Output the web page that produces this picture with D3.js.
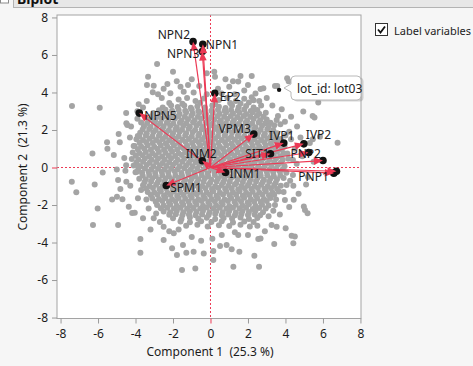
<!DOCTYPE html>
<html>
<head>
<meta charset="utf-8">
<script src="https://cdn.jsdelivr.net/npm/d3@7"></script>
<style>
  body { margin: 0; background: #f6f6f6; }
  svg { display: block; font-family: "Noto Sans", sans-serif; }
</style>
</head>
<body>
<svg id="chart" width="473" height="366"></svg>
<script>
// axis ticks and titles
const xTicks = [-8, -6, -4, -2, 0, 2, 4, 6, 8];
const yTicks = [-8, -6, -4, -2, 0, 2, 4, 6, 8];
const xTitle = "Component 1  (25.3 %)";
const yTitle = "Component 2  (21.3 %)";

// variable loadings (arrow tips)
const varNames = ["NPN2", "NPN1", "NPN3", "EP2", "NPN5", "VPM3", "IVP1", "IVP2", "SIT1", "PNP2", "PNP3", "PNP1", "PNP4", "INM1", "INM2", "SPM1"];
const varX = [-0.93, -0.41, -0.44, 0.23, -3.8, 2.31, 3.91, 4.98, 3.2, 5.24, 6.0, 6.58, 6.72, 0.8, -0.44, -2.36];
const varY = [6.71, 6.57, 6.18, 3.96, 2.9, 1.78, 1.3, 1.26, 0.73, 0.8, 0.37, -0.3, -0.2, -0.27, 0.36, -0.96];

// highlighted row
const hoverRow = {label: "lot_id: lot03", x: 3.66, y: 4.14};

// component scores (one point per row)
const scores = [
  // upper rows of the cloud
  [-1.7,3.62],[-1.25,3.7],[-0.8,3.55],[-0.35,3.68],[0.45,3.6],[0.9,3.72],[1.35,3.55],[1.8,3.66],[2.3,3.58],
  [-2.2,3.44],[-1.5,3.4],[-0.55,3.45],[0.25,3.39],[1.05,3.44],[1.6,3.41],[2.05,3.46],
  [-2.55,3.2],[-2.1,3.3],[-1.75,3.22],[-1.4,3.31],[-1.05,3.18],[-0.7,3.27],[-0.3,3.2],[0.1,3.3],[0.45,3.24],[0.8,3.17],[1.15,3.3],[1.5,3.21],[1.9,3.28],[2.3,3.2],[2.7,3.3],
  [-2.75,3.05],[-2.4,3.08],[-2.05,3.02],[-1.7,3.07],[-1.35,3.03],[-1.0,3.09],[-0.65,3.01],[-0.3,3.06],[0.05,3.03],[0.4,3.08],[0.75,3.02],[1.1,3.07],[1.45,3.04],[1.8,3.09],[2.15,3.01],[2.5,3.06],
  [-3.05,2.9],[-2.7,2.95],[-2.35,2.86],[-2.0,2.92],[-1.65,2.85],[-1.3,2.95],[-0.95,2.88],[-0.6,2.93],[-0.25,2.85],[0.12,2.91],[0.48,2.86],[0.83,2.95],[1.2,2.88],[1.55,2.92],[1.9,2.85],[2.25,2.94],[2.6,2.87],[2.95,2.92],
  [-3.12,2.74],[-2.77,2.7],[-2.42,2.75],[-2.07,2.69],[-1.72,2.73],[-1.37,2.7],[-1.02,2.76],[-0.67,2.71],[-0.32,2.74],[0.03,2.68],[0.38,2.73],[0.73,2.7],[1.08,2.75],[1.43,2.69],[1.78,2.74],[2.13,2.7],[2.48,2.76],[2.83,2.71],
  [-3.3,2.55],[-2.95,2.5],[-2.6,2.58],[-2.25,2.52],[-1.9,2.6],[-1.55,2.5],[-1.2,2.57],[-0.85,2.52],[-0.5,2.6],[-0.15,2.5],[0.2,2.56],[0.55,2.5],[0.9,2.59],[1.25,2.52],[1.6,2.57],[1.95,2.5],[2.3,2.58],[2.65,2.52],[3.0,2.56],
  [-3.38,2.37],[-3.03,2.4],[-2.68,2.35],[-2.33,2.39],[-1.98,2.34],[-1.63,2.38],[-1.28,2.36],[-0.93,2.41],[-0.58,2.35],[-0.23,2.38],[0.12,2.34],[0.47,2.4],[0.82,2.36],[1.17,2.39],[1.52,2.33],[1.87,2.38],[2.22,2.35],[2.57,2.4],[2.92,2.36],[3.2,2.39],
  [-3.55,2.2],[-3.2,2.16],[-2.85,2.24],[-2.5,2.18],[-2.15,2.23],[-1.8,2.15],[-1.45,2.22],[-1.1,2.17],[-0.75,2.24],[-0.4,2.16],[-0.05,2.22],[0.3,2.15],[0.65,2.23],[1.0,2.18],[1.35,2.24],[1.7,2.16],[2.05,2.21],[2.4,2.15],[2.75,2.23],[3.1,2.18],[3.4,2.25],
  [-3.62,2.02],[-3.27,2.05],[-2.92,2.0],[-2.57,2.04],[-2.22,1.99],[-1.87,2.03],[-1.52,2.01],[-1.17,2.06],[-0.82,2.0],[-0.47,2.04],[-0.12,1.99],[0.23,2.05],[0.58,2.01],[0.93,2.04],[1.28,1.98],[1.63,2.03],[1.98,2.0],[2.33,2.05],[2.68,2.01],[3.03,2.04],[3.35,1.99],
  [-3.75,1.85],[-3.4,1.82],[-3.05,1.88],[-2.7,1.8],[-2.35,1.87],[-2.0,1.82],[-1.65,1.9],[-1.3,1.83],[-0.95,1.88],[-0.6,1.8],[-0.25,1.86],[0.1,1.82],[0.45,1.89],[0.8,1.81],[1.15,1.87],[1.5,1.83],[1.85,1.9],[2.2,1.82],[2.55,1.86],[2.9,1.8],[3.25,1.88],[3.55,1.83],
  [-3.8,1.67],[-3.45,1.7],[-3.1,1.65],[-2.75,1.69],[-2.4,1.64],[-2.05,1.68],[-1.7,1.66],[-1.35,1.71],[-1.0,1.65],[-0.65,1.69],[-0.3,1.64],[0.05,1.7],[0.4,1.66],[0.75,1.69],[1.1,1.63],[1.45,1.68],[1.8,1.65],[2.15,1.7],[2.5,1.66],[2.85,1.69],[3.2,1.64],[3.5,1.68],
  [-3.95,1.5],[-3.6,1.46],[-3.25,1.53],[-2.9,1.47],[-2.55,1.52],[-2.2,1.45],[-1.85,1.53],[-1.5,1.48],[-1.15,1.52],[-0.8,1.45],[-0.45,1.51],[-0.1,1.47],[0.25,1.53],[0.6,1.46],[0.95,1.52],[1.3,1.48],[1.65,1.54],[2.0,1.46],[2.35,1.51],[2.7,1.47],[3.05,1.53],[3.4,1.46],[3.75,1.52],
  [-3.78,1.32],[-3.43,1.35],[-3.08,1.3],[-2.73,1.34],[-2.38,1.29],[-2.03,1.33],[-1.68,1.31],[-1.33,1.36],[-0.98,1.3],[-0.63,1.34],[-0.28,1.29],[0.07,1.35],[0.42,1.31],[0.77,1.34],[1.12,1.28],[1.47,1.33],[1.82,1.3],[2.17,1.35],[2.52,1.31],[2.87,1.34],[3.22,1.29],[3.57,1.33],
  [-4.05,1.15],[-3.7,1.12],[-3.35,1.18],[-3.0,1.1],[-2.65,1.17],[-2.3,1.12],[-1.95,1.19],[-1.6,1.11],[-1.25,1.16],[-0.9,1.1],[-0.55,1.18],[-0.2,1.12],[0.15,1.17],[0.5,1.11],[0.85,1.19],[1.2,1.13],[1.55,1.17],[1.9,1.1],[2.25,1.16],[2.6,1.12],[2.95,1.18],[3.3,1.11],[3.65,1.17],[3.95,1.12],
  [-3.88,0.97],[-3.53,1.0],[-3.18,0.95],[-2.83,0.99],[-2.48,0.94],[-2.13,0.98],[-1.78,0.96],[-1.43,1.01],[-1.08,0.95],[-0.73,0.99],[-0.38,0.94],[-0.03,1.0],[0.32,0.96],[0.67,0.99],[1.02,0.93],[1.37,0.98],[1.72,0.95],[2.07,1.0],[2.42,0.96],[2.77,0.99],[3.12,0.94],[3.47,0.98],[3.8,0.95],
  // middle rows
  [-4.15,0.8],[-3.8,0.77],[-3.45,0.83],[-3.1,0.76],[-2.75,0.82],[-2.4,0.78],[-2.05,0.84],[-1.7,0.76],[-1.35,0.81],[-1.0,0.77],[-0.65,0.83],[-0.3,0.75],[0.05,0.82],[0.4,0.78],[0.75,0.84],[1.1,0.76],[1.45,0.81],[1.8,0.77],[2.15,0.83],[2.5,0.76],[2.85,0.82],[3.2,0.78],[3.55,0.84],[3.9,0.76],
  [-3.98,0.62],[-3.63,0.65],[-3.28,0.6],[-2.93,0.64],[-2.58,0.59],[-2.23,0.63],[-1.88,0.61],[-1.53,0.66],[-1.18,0.6],[-0.83,0.64],[-0.48,0.59],[-0.13,0.65],[0.22,0.61],[0.57,0.64],[0.92,0.58],[1.27,0.63],[1.62,0.6],[1.97,0.65],[2.32,0.61],[2.67,0.64],[3.02,0.59],[3.37,0.63],[3.72,0.6],
  [-4.2,0.45],[-3.85,0.42],[-3.5,0.48],[-3.15,0.41],[-2.8,0.47],[-2.45,0.43],[-2.1,0.49],[-1.75,0.41],[-1.4,0.46],[-1.05,0.42],[-0.7,0.48],[-0.35,0.4],[0.0,0.46],[0.35,0.42],[0.7,0.48],[1.05,0.41],[1.4,0.47],[1.75,0.43],[2.1,0.49],[2.45,0.41],[2.8,0.46],[3.15,0.42],[3.5,0.48],[3.85,0.41],[4.15,0.47],
  [-3.95,0.27],[-3.6,0.3],[-3.25,0.25],[-2.9,0.29],[-2.55,0.24],[-2.2,0.28],[-1.85,0.26],[-1.5,0.31],[-1.15,0.25],[-0.8,0.29],[-0.45,0.24],[-0.1,0.3],[0.25,0.26],[0.6,0.29],[0.95,0.23],[1.3,0.28],[1.65,0.25],[2.0,0.3],[2.35,0.26],[2.7,0.29],[3.05,0.24],[3.4,0.28],[3.75,0.25],
  [-4.1,0.1],[-3.75,0.07],[-3.4,0.13],[-3.05,0.06],[-2.7,0.12],[-2.35,0.08],[-2.0,0.14],[-1.65,0.06],[-1.3,0.11],[-0.95,0.07],[-0.6,0.13],[-0.25,0.05],[0.1,0.12],[0.45,0.08],[0.8,0.14],[1.15,0.06],[1.5,0.11],[1.85,0.07],[2.2,0.13],[2.55,0.05],[2.9,0.12],[3.25,0.08],[3.6,0.14],[3.95,0.06],
  [-3.85,-0.08],[-3.5,-0.05],[-3.15,-0.1],[-2.8,-0.06],[-2.45,-0.11],[-2.1,-0.07],[-1.75,-0.09],[-1.4,-0.04],[-1.05,-0.1],[-0.7,-0.06],[-0.35,-0.11],[0.0,-0.05],[0.35,-0.09],[0.7,-0.06],[1.05,-0.12],[1.4,-0.07],[1.75,-0.1],[2.1,-0.05],[2.45,-0.09],[2.8,-0.06],[3.15,-0.11],[3.5,-0.07],[3.85,-0.1],
  [-4.0,-0.25],[-3.65,-0.28],[-3.3,-0.22],[-2.95,-0.29],[-2.6,-0.23],[-2.25,-0.27],[-1.9,-0.21],[-1.55,-0.29],[-1.2,-0.24],[-0.85,-0.28],[-0.5,-0.22],[-0.15,-0.3],[0.2,-0.23],[0.55,-0.27],[0.9,-0.21],[1.25,-0.29],[1.6,-0.24],[1.95,-0.28],[2.3,-0.22],[2.65,-0.3],[3.0,-0.23],[3.35,-0.27],[3.7,-0.21],[4.05,-0.28],
  [-3.62,-0.43],[-3.27,-0.4],[-2.92,-0.45],[-2.57,-0.41],[-2.22,-0.46],[-1.87,-0.42],[-1.52,-0.44],[-1.17,-0.39],[-0.82,-0.45],[-0.47,-0.41],[-0.12,-0.46],[0.23,-0.4],[0.58,-0.44],[0.93,-0.41],[1.28,-0.47],[1.63,-0.42],[1.98,-0.45],[2.33,-0.4],[2.68,-0.44],[3.03,-0.41],[3.38,-0.46],[3.73,-0.42],
  [-3.8,-0.6],[-3.45,-0.63],[-3.1,-0.57],[-2.75,-0.64],[-2.4,-0.58],[-2.05,-0.62],[-1.7,-0.56],[-1.35,-0.64],[-1.0,-0.59],[-0.65,-0.63],[-0.3,-0.57],[0.05,-0.65],[0.4,-0.58],[0.75,-0.62],[1.1,-0.56],[1.45,-0.64],[1.8,-0.59],[2.15,-0.63],[2.5,-0.57],[2.85,-0.65],[3.2,-0.58],[3.55,-0.62],[3.9,-0.56],
  [-3.52,-0.78],[-3.17,-0.75],[-2.82,-0.8],[-2.47,-0.76],[-2.12,-0.81],[-1.77,-0.77],[-1.42,-0.79],[-1.07,-0.74],[-0.72,-0.8],[-0.37,-0.76],[-0.02,-0.81],[0.33,-0.75],[0.68,-0.79],[1.03,-0.76],[1.38,-0.82],[1.73,-0.77],[2.08,-0.8],[2.43,-0.75],[2.78,-0.79],[3.13,-0.76],[3.48,-0.81],
  // lower rows
  [-3.6,-0.95],[-3.25,-0.98],[-2.9,-0.92],[-2.55,-0.99],[-2.2,-0.93],[-1.85,-0.97],[-1.5,-0.91],[-1.15,-0.99],[-0.8,-0.94],[-0.45,-0.98],[-0.1,-0.92],[0.25,-1.0],[0.6,-0.93],[0.95,-0.97],[1.3,-0.91],[1.65,-0.99],[2.0,-0.94],[2.35,-0.98],[2.7,-0.92],[3.05,-1.0],[3.4,-0.93],[3.75,-0.97],
  [-3.42,-1.12],[-3.07,-1.09],[-2.72,-1.14],[-2.37,-1.1],[-2.02,-1.15],[-1.67,-1.11],[-1.32,-1.13],[-0.97,-1.08],[-0.62,-1.14],[-0.27,-1.1],[0.08,-1.15],[0.43,-1.09],[0.78,-1.13],[1.13,-1.1],[1.48,-1.16],[1.83,-1.11],[2.18,-1.14],[2.53,-1.09],[2.88,-1.13],[3.23,-1.1],[3.55,-1.15],
  [-3.35,-1.3],[-3.0,-1.33],[-2.65,-1.27],[-2.3,-1.34],[-1.95,-1.28],[-1.6,-1.32],[-1.25,-1.26],[-0.9,-1.34],[-0.55,-1.29],[-0.2,-1.33],[0.15,-1.27],[0.5,-1.35],[0.85,-1.28],[1.2,-1.32],[1.55,-1.26],[1.9,-1.34],[2.25,-1.29],[2.6,-1.33],[2.95,-1.27],[3.3,-1.35],[3.65,-1.28],
  [-3.18,-1.47],[-2.83,-1.44],[-2.48,-1.49],[-2.13,-1.45],[-1.78,-1.5],[-1.43,-1.46],[-1.08,-1.48],[-0.73,-1.43],[-0.38,-1.49],[-0.03,-1.45],[0.32,-1.5],[0.67,-1.44],[1.02,-1.48],[1.37,-1.45],[1.72,-1.51],[2.07,-1.46],[2.42,-1.49],[2.77,-1.44],[3.12,-1.48],[3.4,-1.45],
  [-3.1,-1.65],[-2.75,-1.68],[-2.4,-1.62],[-2.05,-1.69],[-1.7,-1.63],[-1.35,-1.67],[-1.0,-1.61],[-0.65,-1.69],[-0.3,-1.64],[0.05,-1.68],[0.4,-1.62],[0.75,-1.7],[1.1,-1.63],[1.45,-1.67],[1.8,-1.61],[2.15,-1.69],[2.5,-1.64],[2.85,-1.68],[3.2,-1.62],[3.5,-1.7],
  [-2.92,-1.82],[-2.57,-1.79],[-2.22,-1.84],[-1.87,-1.8],[-1.52,-1.85],[-1.17,-1.81],[-0.82,-1.83],[-0.47,-1.78],[-0.12,-1.84],[0.23,-1.8],[0.58,-1.85],[0.93,-1.79],[1.28,-1.83],[1.63,-1.8],[1.98,-1.86],[2.33,-1.81],[2.68,-1.84],[3.0,-1.79],
  [-2.85,-2.0],[-2.5,-2.03],[-2.15,-1.97],[-1.8,-2.04],[-1.45,-1.98],[-1.1,-2.02],[-0.75,-1.96],[-0.4,-2.04],[-0.05,-1.99],[0.3,-2.03],[0.65,-1.97],[1.0,-2.05],[1.35,-1.98],[1.7,-2.02],[2.05,-1.96],[2.4,-2.04],[2.75,-1.99],[3.1,-2.03],
  [-2.65,-2.17],[-2.3,-2.14],[-1.95,-2.19],[-1.6,-2.15],[-1.25,-2.2],[-0.9,-2.16],[-0.55,-2.18],[-0.2,-2.13],[0.15,-2.19],[0.5,-2.15],[0.85,-2.2],[1.2,-2.14],[1.55,-2.18],[1.9,-2.15],[2.25,-2.21],[2.6,-2.16],[2.95,-2.19],
  [-2.5,-2.35],[-2.15,-2.38],[-1.8,-2.32],[-1.45,-2.39],[-1.1,-2.33],[-0.75,-2.37],[-0.4,-2.31],[-0.05,-2.39],[0.3,-2.34],[0.65,-2.38],[1.0,-2.32],[1.35,-2.4],[1.7,-2.33],[2.05,-2.37],[2.4,-2.31],[2.8,-2.38],
  [-2.2,-2.52],[-1.85,-2.49],[-1.5,-2.54],[-1.15,-2.5],[-0.8,-2.55],[-0.45,-2.51],[-0.1,-2.53],[0.25,-2.48],[0.6,-2.54],[0.95,-2.5],[1.3,-2.55],[1.65,-2.49],[2.0,-2.53],[2.35,-2.5],[2.65,-2.55],
  [-2.0,-2.7],[-1.55,-2.74],[-1.1,-2.67],[-0.65,-2.73],[-0.2,-2.68],[0.25,-2.75],[0.7,-2.69],[1.15,-2.72],[1.6,-2.66],[2.05,-2.74],[2.5,-2.69],
  [-1.6,-2.88],[-1.1,-2.92],[-0.5,-2.86],[0.05,-2.9],[0.6,-2.87],[1.2,-2.93],[1.8,-2.88],[2.3,-2.91],
  [-1.3,-3.1],[-0.7,-3.05],[-0.15,-3.15],[0.45,-3.08],[1.0,-3.12],[1.6,-3.05],[2.1,-3.15],
  // upper fringe
  [-2.85,5.52],[-2.0,5.11],[-3.33,4.84],[-3.39,4.4],[-3.03,4.36],[-3.08,4.01],[-1.2,4.4],[-2.14,3.96],[-1.43,4.04],[-2.5,4.2],[-1.8,4.6],[-0.9,4.0],
  [0.2,5.11],[-0.2,5.02],[0.24,4.84],[1.48,4.58],[1.6,4.88],[2.2,4.88],[2.82,4.22],[2.67,4.19],[1.0,4.3],[1.8,4.1],[2.4,3.95],[0.6,3.95],[1.3,3.9],[3.0,3.7],[-2.6,3.7],[-3.4,3.55],
  [-2.3,4.45],[-1.6,4.3],[-0.6,4.35],[0.4,4.2],[1.2,4.6],[2.0,4.4],[-2.8,3.9],[-1.0,4.7],[0.8,4.7],[2.6,3.55],[-3.6,3.2],[-3.9,3.0],[-0.2,3.9],[2.2,3.75],
  // right fringe
  [3.44,4.35],[3.56,4.35],[4.09,4.76],[4.17,4.6],[5.75,3.46],[4.95,2.98],[5.45,2.75],[5.55,2.66],[6.78,1.32],[3.97,2.44],[3.53,2.53],[3.73,2.31],[4.62,2.18],[5.84,1.64],[5.46,1.51],
  [4.2,1.9],[4.8,1.6],[5.3,1.3],[4.5,1.0],[4.9,0.6],[5.5,0.3],[4.6,0.2],[4.4,-0.4],[5.2,-0.5],[4.3,2.7],[3.8,3.1],[3.3,3.3],
  [4.3,1.5],[4.1,0.75],[4.4,0.4],[4.0,1.7],[3.6,2.75],[4.25,-0.7],
  // lower right fringe
  [4.06,-0.93],[4.42,-0.97],[3.97,-1.73],[4.44,-1.72],[3.44,-2.0],[5.04,-2.27],[5.18,-2.44],[4.98,-2.08],[4.33,-3.64],[4.5,-3.68],[4.42,-4.04],[3.4,-4.08],[2.55,-3.81],[2.67,-3.78],
  [2.34,-4.7],[2.59,-5.29],[1.22,-5.29],[1.54,-4.49],[1.13,-4.36],[0.86,-4.13],[0.51,-4.19],[0.15,-4.45],[0.15,-4.93],[3.53,-3.16],[4.01,-3.24],[3.26,-3.07],[1.48,-3.6],
  [2.9,-3.4],[2.0,-3.6],[3.7,-2.5],[4.2,-2.1],[4.7,-1.4],[3.9,-1.3],[5.1,-0.9],[2.5,-3.1],[3.1,-2.6],[3.35,-2.3],[1.3,-3.45],
  // lower left fringe
  [-7.4,-0.76],[-7.16,-1.32],[-6.18,-0.9],[-5.75,-0.26],[-4.93,-0.67],[-4.49,-0.76],[-4.81,-1.15],[-4.28,-0.97],[-5.25,-1.7],[-4.99,-1.56],[-6.02,-2.18],[-3.87,-1.64],
  [-4.36,-2.09],[-4.04,-2.41],[-6.27,-3.07],[-4.93,-3.07],[-3.74,-3.81],[-3.74,-4.54],[-4.54,-0.17],[-3.92,-0.22],[-3.42,-1.7],[-3.3,-2.18],[-3.03,-2.71],[-2.5,-3.16],
  [-2.5,-3.87],[-1.96,-3.51],[-2.05,-4.31],[-1.79,-4.67],[-1.47,-4.13],[-1.52,-5.47],[-0.81,-5.38],[-1.29,-4.54],[-0.9,-4.49],[-0.36,-4.58],[-0.5,-3.9],[-1.0,-3.7],
  [0.1,-3.8],[0.6,-3.6],[-2.7,-2.9],[-2.2,-3.4],[-4.7,-1.69],[-4.18,-2.43],[-3.6,-2.7],[-3.2,-3.3],[-3.7,-1.2],[-2.9,-2.45],[-1.7,-3.3],
  // upper left fringe
  [-7.39,3.28],[-5.91,3.19],[-3.83,3.37],[-4.49,2.36],[-4.24,2.18],[-3.88,1.68],[-5.52,1.34],[-4.84,1.34],[-6.3,0.74],[-5.16,0.67],[-4.1,1.15],[-3.83,0.08],
  [-4.5,0.12],[-4.44,2.27],[-4.9,1.78],[-4.5,2.9],[-3.9,2.6],[-4.6,0.5],[-5.0,-0.1],[-5.5,1.0],[-4.3,1.6],[-3.7,2.4]
];

// label placement for the variables: [anchor, dx, dy] in pixels
const labelPlace = {
  NPN2: ["end", -3, -7], NPN1: ["start", 3, 0], NPN3: ["end", -3, 2], EP2: ["start", 5, 3],
  NPN5: ["start", 5, 2], VPM3: ["end", -3, -6], IVP1: ["middle", -2, -8], IVP2: ["start", 2, -9],
  SIT1: ["end", -1, 0], PNP2: ["middle", -3, 1], PNP1: ["end", -5, 3], INM1: ["start", 4, 1],
  INM2: ["middle", -1, -7], SPM1: ["start", 4, 2]
};

const svg = d3.select("#chart");
const red = "#ec3a55";

// header strip (cut off at the top)
svg.append("rect").attr("x", 13.5).attr("y", -4).attr("width", 470).attr("height", 11.5)
  .attr("fill", "#e7e7e7").attr("stroke", "#b3b3b3");
svg.append("text").attr("x", 17).attr("y", 3.5).attr("font-size", 14).attr("font-weight", "bold")
  .attr("fill", "#111").text("Biplot");
svg.append("rect").attr("x", 0.5).attr("y", -6).attr("width", 8).attr("height", 9)
  .attr("fill", "#fff").attr("stroke", "#8a8a8a");

// scales
const x = d3.scaleLinear().domain([-8.19, 8.03]).range([57, 361]);
const y = d3.scaleLinear().domain([-8.05, 8.13]).range([318.5, 15]);

// plot background
svg.append("rect").attr("x", 57).attr("y", 15).attr("width", 304).attr("height", 303.5).attr("fill", "#fff");

// zero reference lines
svg.append("line").attr("x1", x(0)).attr("x2", x(0)).attr("y1", 15).attr("y2", 318.5)
  .attr("stroke", red).attr("stroke-dasharray", "2,2");
svg.append("line").attr("x1", 57).attr("x2", 361).attr("y1", y(0)).attr("y2", y(0))
  .attr("stroke", red).attr("stroke-dasharray", "2,2");

// score points
svg.append("g").selectAll("circle").data(scores).join("circle")
  .attr("cx", d => x(d[0])).attr("cy", d => y(d[1])).attr("r", 3)
  .attr("fill", "#a4a4a4");

// highlighted point
svg.append("circle").attr("cx", x(hoverRow.x)).attr("cy", y(hoverRow.y)).attr("r", 2.2).attr("fill", "#111");

// loading arrows
const vars = varNames.map((n, i) => ({name: n, x: varX[i], y: varY[i]}));
const arrows = svg.append("g");
arrows.selectAll("line").data(vars).join("line")
  .attr("x1", x(0)).attr("y1", y(0))
  .attr("x2", d => x(d.x)).attr("y2", d => y(d.y))
  .attr("stroke", red).attr("stroke-width", 1.2);
arrows.selectAll("circle").data(vars).join("circle")
  .attr("cx", d => x(d.x)).attr("cy", d => y(d.y)).attr("r", 3.8).attr("fill", "#111");
arrows.selectAll("path").data(vars).join("path")
  .attr("fill", red)
  .attr("d", d => {
    const tx = x(d.x), ty = y(d.y);
    const dx = tx - x(0), dy = ty - y(0);
    const len = Math.sqrt(dx * dx + dy * dy);
    const ux = dx / len, uy = dy / len;
    const bx = tx - ux * 9, by = ty - uy * 9;
    return "M" + tx + "," + ty + "L" + (bx - uy * 3.8) + "," + (by + ux * 3.8) +
      "L" + (bx + uy * 3.8) + "," + (by - ux * 3.8) + "Z";
  });

// variable labels
svg.append("g").selectAll("text").data(vars.filter(d => labelPlace[d.name])).join("text")
  .attr("x", d => x(d.x) + labelPlace[d.name][1])
  .attr("y", d => y(d.y) + labelPlace[d.name][2])
  .attr("text-anchor", d => labelPlace[d.name][0])
  .attr("dominant-baseline", "central")
  .attr("font-size", 12).attr("fill", "#1c1c1c")
  .text(d => d.name);

// frame
svg.append("rect").attr("x", 57).attr("y", 15).attr("width", 304).attr("height", 303.5)
  .attr("fill", "none").attr("stroke", "#a3a3a3");

// axes
const yAxis = svg.append("g").attr("transform", "translate(57,0)")
  .call(d3.axisLeft(y).tickValues(yTicks).tickSize(5).tickPadding(4).tickFormat(d => d));
const xAxis = svg.append("g").attr("transform", "translate(0,318.5)")
  .call(d3.axisBottom(x).tickValues(xTicks).tickSize(5).tickPadding(6).tickFormat(d => d));
[xAxis, yAxis].forEach(a => {
  a.select(".domain").remove();
  a.selectAll(".tick line").attr("stroke", d => d === 0 ? red : "#9a9a9a");
  a.selectAll(".tick text").attr("font-size", 12).attr("fill", "#1c1c1c")
    .attr("font-family", "Noto Sans, sans-serif");
});

// axis titles
svg.append("text").attr("x", 210).attr("y", 356).attr("text-anchor", "middle")
  .attr("font-size", 12).attr("fill", "#1c1c1c").style("white-space", "pre").text(xTitle);
svg.append("text").attr("transform", "translate(27,167) rotate(-90)").attr("text-anchor", "middle")
  .attr("font-size", 12).attr("fill", "#1c1c1c").style("white-space", "pre").text(yTitle);

// tooltip
const tip = svg.append("g");
tip.append("path")
  .attr("d", "M292,80 a4,4 0 0 1 4,-4 h62 a4,4 0 0 1 4,4 v16 a4,4 0 0 1 -4,4 h-62 a4,4 0 0 1 -4,-4 v-4 l-7,-4 l7,-4 z")
  .attr("fill", "#888").attr("opacity", 0.35).attr("transform", "translate(1.5,1.5)");
tip.append("path")
  .attr("d", "M291,80 a4,4 0 0 1 4,-4 h62 a4,4 0 0 1 4,4 v16 a4,4 0 0 1 -4,4 h-62 a4,4 0 0 1 -4,-4 v-4 l-7,-4 l7,-4 z")
  .attr("fill", "#fff").attr("stroke", "#b9b9b9");
tip.append("text").attr("x", 297).attr("y", 88).attr("dominant-baseline", "central")
  .attr("font-size", 12).attr("fill", "#1c1c1c").text(hoverRow.label);

// "Label variables" checkbox
svg.append("rect").attr("x", 375.5).attr("y", 23.5).attr("width", 12).attr("height", 12)
  .attr("fill", "#fff").attr("stroke", "#333");
svg.append("path").attr("d", "M378,29.5 L380.5,32.5 L385,26.5").attr("fill", "none")
  .attr("stroke", "#111").attr("stroke-width", 1.8);
svg.append("text").attr("x", 394).attr("y", 30).attr("dominant-baseline", "central")
  .attr("font-size", 11).attr("fill", "#1c1c1c").text("Label variables");
</script>
</body>
</html>
